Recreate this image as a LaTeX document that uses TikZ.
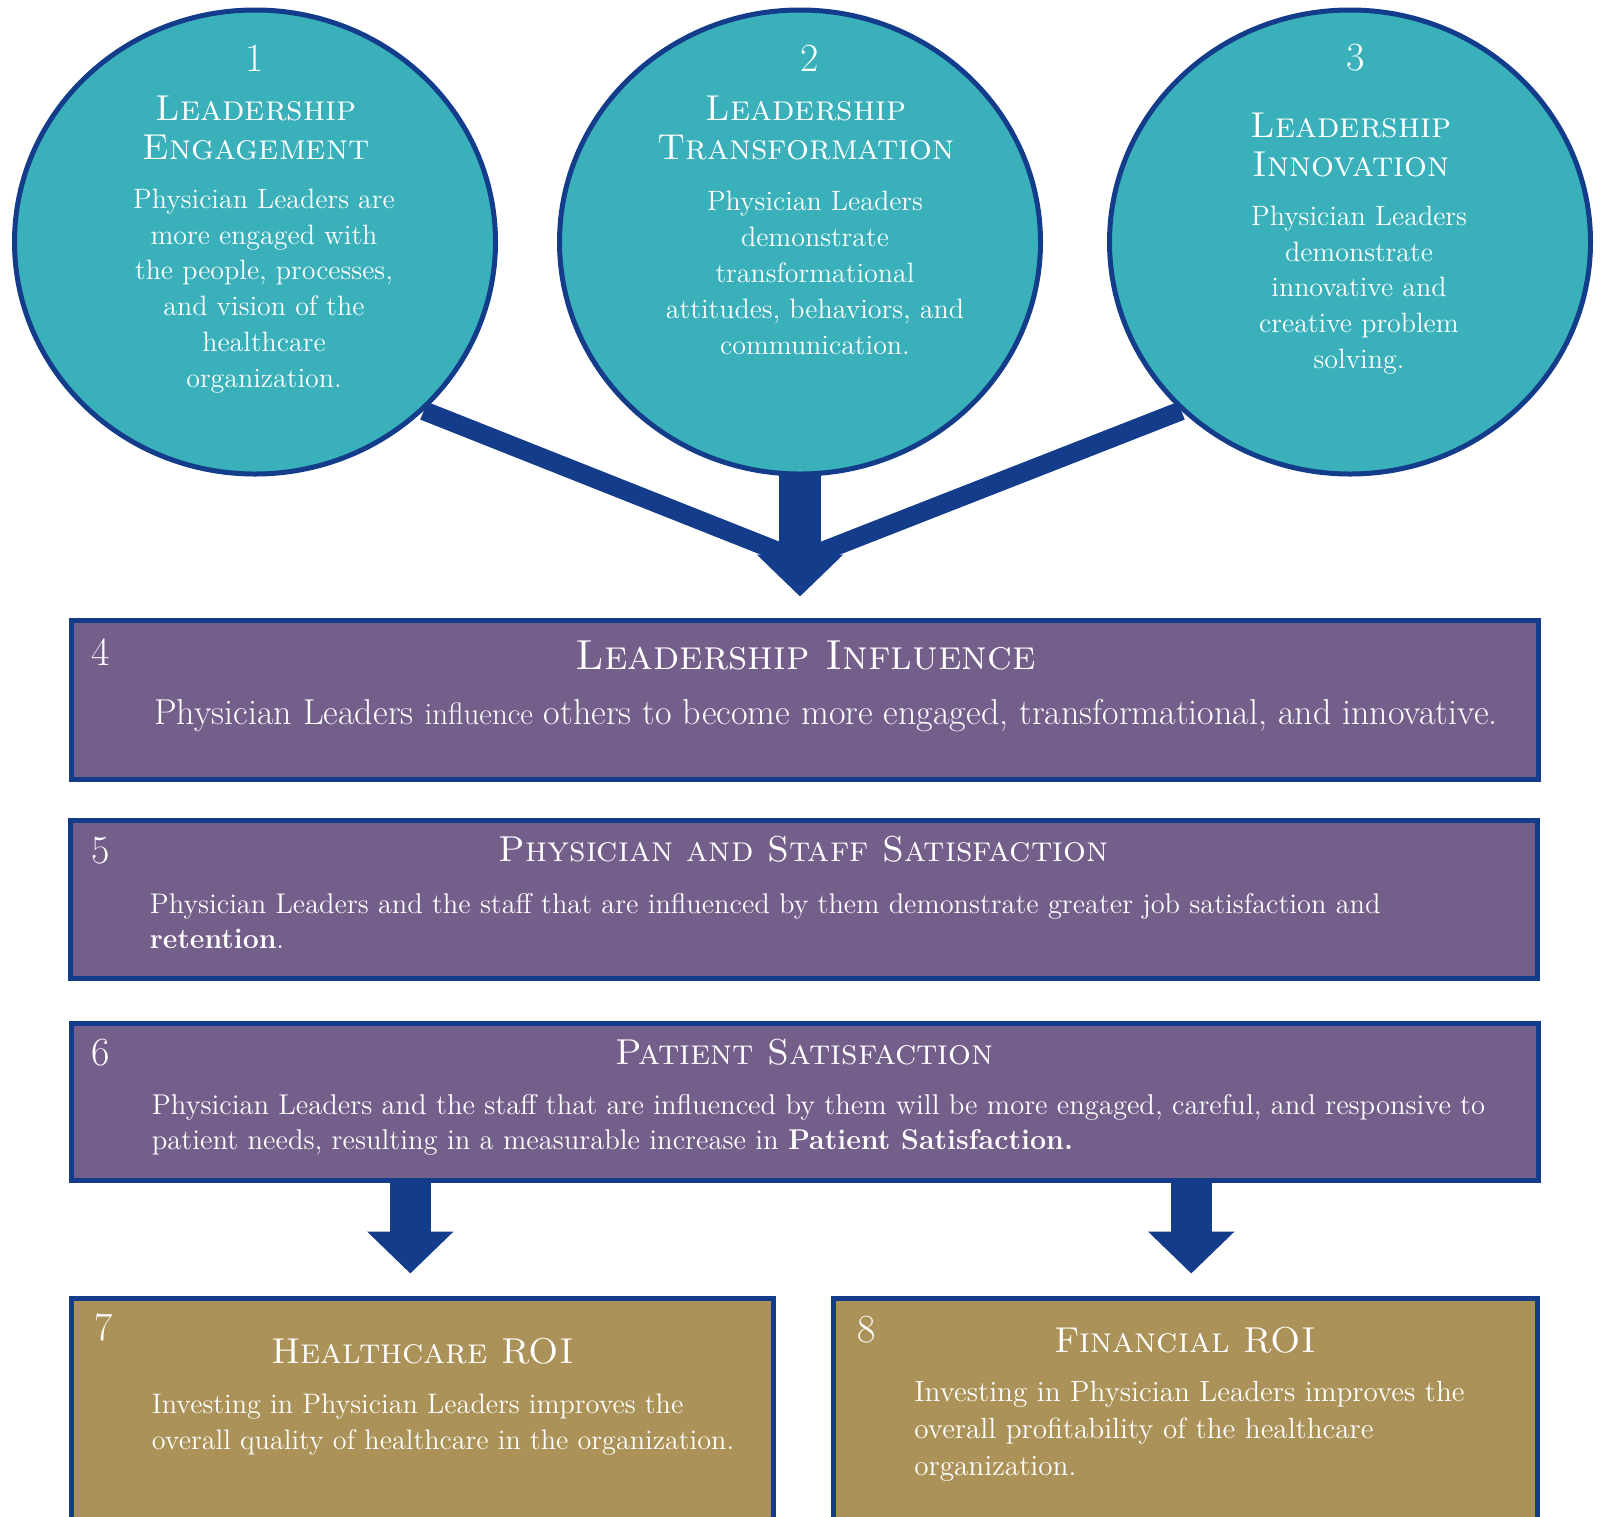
\documentclass[tikz,border=0pt]{standalone}
\usepackage{fontspec}
\usepackage{xcolor}
\usepackage{tikz}
\usetikzlibrary{calc,positioning,arrows.meta,shapes.geometric,backgrounds}

\definecolor{tealfill}{HTML}{3AB1BA}
\definecolor{navyline}{HTML}{133C8A}
\definecolor{purplefill}{HTML}{745F8B}
\definecolor{goldfill}{HTML}{AB9258}

\tikzset{
    bubble/.style={ellipse, draw=navyline, line width=2.5pt, fill=tealfill, minimum width=240.5pt, minimum height=232pt, inner sep=0pt},
    panel/.style={rectangle, draw=navyline, line width=2.5pt, inner sep=0pt},
    num/.style={text=white, font=\fontsize{20}{22}\selectfont},
    ttl/.style={text=white, font=\fontsize{18}{19.8}\selectfont\scshape, align=center},
    bigttl/.style={text=white, font=\fontsize{21}{23}\selectfont\scshape, align=center},
    txt/.style={text=white, font=\fontsize{14}{17.9}\selectfont, align=center},
    boxtxt/.style={text=white, font=\fontsize{14.2}{17.3}\selectfont, align=left, anchor=west, inner sep=0pt},
    spoke/.style={navyline, line width=9.5pt},
    bigarrow/.style={navyline, line width=21pt, -{Triangle[length=21pt, width=42pt]}},
}

\begin{document}
\begin{tikzpicture}[x=0.5pt, y=-0.5pt]
    \useasboundingbox (0,0) rectangle (1605,1516);
    \clip (0,0) rectangle (1605,1516);

    \node [bubble] (c1) at (255,242) {};
    \node [bubble] (c2) at (800,242) {};
    \node [bubble] (c3) at (1350,242) {};

    \node [num] (n1) at (255,58) {1};
    \node [ttl] (t1) at (256,128) {Leadership\\Engagement};
    \node [txt] (d1) at (264,291) {Physician Leaders are\\more engaged with\\the people, processes,\\and vision of the\\healthcare\\organization.};

    \node [num] (n2) at (810,58) {2};
    \node [ttl] (t2) at (806,128) {Leadership\\Transformation};
    \node [txt] (d2) at (815,273) {Physician Leaders\\demonstrate\\transformational\\attitudes, behaviors, and\\communication.};

    \node [num] (n3) at (1356,58) {3};
    \node [ttl] (t3) at (1351,145) {Leadership\\Innovation};
    \node [txt] (d3) at (1359,290) {Physician Leaders\\demonstrate\\innovative and\\creative problem\\solving.};

    \node [panel, fill=purplefill, minimum width=733.5pt, minimum height=79.5pt] (b4) at (804.5,700) {};
    \node [panel, fill=purplefill, minimum width=733.5pt, minimum height=79pt] (b5) at (803.5,899) {};
    \node [panel, fill=purplefill, minimum width=733.5pt, minimum height=78.75pt] (b6) at (804.5,1102) {};
    \node [panel, fill=goldfill, anchor=north, minimum width=351.2pt, minimum height=150pt] (b7) at (422.3,1295.5) {};
    \node [panel, fill=goldfill, anchor=north, minimum width=351.75pt, minimum height=150pt] (b8) at (1185.25,1295.5) {};

    \node [num] (n4) at (101,652) {4};
    \node [bigttl] (t4) at (805.6,655) {Leadership Influence};
    \node [text=white, font=\fontsize{18}{21}\selectfont] (d4) at (826,716) {Physician Leaders {\fontsize{15.5}{21}\selectfont influence} others to become more engaged, transformational, and innovative.};

    \node [num] (n5) at (101,850.6) {5};
    \node [ttl] (t5) at (803.5,849.6) {Physician and Staff Satisfaction};
    \node [boxtxt] (d5) at (149.5,921.3) {Physician Leaders and the staff that are influenced by them demonstrate greater job satisfaction and\\\textbf{retention}.};

    \node [num] (n6) at (101,1053) {6};
    \node [ttl] (t6) at (804.5,1052) {Patient Satisfaction};
    \node [boxtxt, font=\fontsize{14.3}{17.3}\selectfont] (d6) at (151.5,1125) {Physician Leaders and the staff that are influenced by them will be more engaged, careful, and responsive to\\patient needs, resulting in a measurable increase in \textbf{Patient Satisfaction.}};

    \node [num] (n7) at (103.4,1327.6) {7};
    \node [ttl] (t7) at (422.7,1351) {Healthcare ROI};
    \node [boxtxt, font=\fontsize{14.1}{18}\selectfont] (d7) at (151.5,1424.4) {Investing in Physician Leaders improves the\\overall quality of healthcare in the organization.};

    \node [num] (n8) at (867,1329.6) {8};
    \node [ttl] (t8) at (1185,1340) {Financial ROI};
    \node [boxtxt, font=\fontsize{14.6}{18.5}\selectfont] (d8) at (914,1431) {Investing in Physician Leaders improves the\\overall profitability of the healthcare\\organization.};

    % connectors
    \coordinate (join) at ($(c2.center |- b4.north)+(0,-58)$);
    \begin{scope}[on background layer]
        \draw[spoke] (c1.-45) -- (join);
        \draw[spoke] (c3.-135) -- (join);
        \draw[bigarrow, shorten >=10.75pt] (c2.center) -- (c2.center |- b4.north);
    \end{scope}

    \draw[bigarrow, line width=20.5pt, shorten >=11pt] ([xshift=-6pt]b7.north |- b6.south) -- ([xshift=-6pt]b7.north);
    \draw[bigarrow, line width=20.5pt, shorten >=11pt] ([xshift=3pt]b8.north |- b6.south) -- ([xshift=3pt]b8.north);

\end{tikzpicture}
\end{document}
